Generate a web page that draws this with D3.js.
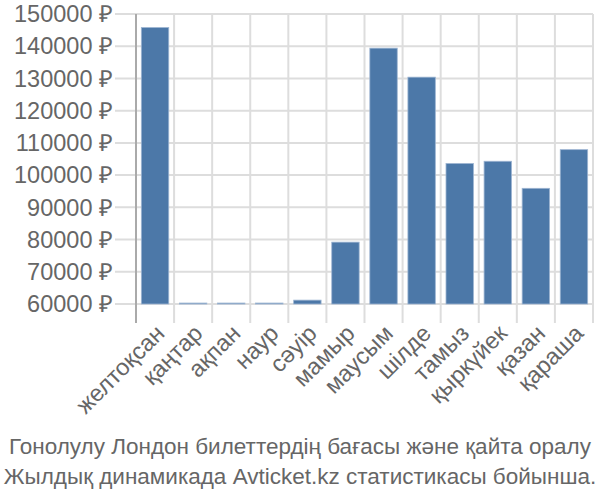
<!DOCTYPE html>
<html><head><meta charset="utf-8">
<script src="https://cdn.jsdelivr.net/npm/d3@7"></script>
<style>body{margin:0;background:#fff;}svg{display:block;}</style>
</head><body>
<svg id="c" width="600" height="500"></svg>
<script>
const months = ["желтоқсан","қаңтар","ақпан","наур","сәуір","мамыр","маусым","шілде","тамыз","қыркүйек","қазан","қараша"];
const prices = [145800, 60300, 60300, 60300, 61200, 79200, 139400, 130400, 103600, 104300, 95900, 107900];
const yTicks = [60000,70000,80000,90000,100000,110000,120000,130000,140000,150000];
const titleLines = ["Гонолулу Лондон билеттердің бағасы және қайта оралу","Жылдық динамикада Avticket.kz статистикасы бойынша."];

const svg = d3.select("#c");
const L = 136, R = 593, T = 14, B = 304;
const x = d3.scaleBand().domain(months).range([L, R]);
const y = d3.scaleLinear().domain([60000,150000]).range([B, T]);

const g = svg.append("g");
g.selectAll(".hg").data(yTicks).enter().append("line")
 .attr("x1", 115).attr("x2", R).attr("y1", d=>y(d)).attr("y2", d=>y(d))
 .attr("stroke","#dddddd").attr("stroke-width",2);
const vx = months.map(m=>x(m)).slice(1).concat([R]);
g.selectAll(".vg").data(vx).enter().append("line")
 .attr("x1", d=>d).attr("x2", d=>d).attr("y1", T).attr("y2", 323)
 .attr("stroke","#dddddd").attr("stroke-width",2);
g.append("line").attr("x1",L).attr("x2",L).attr("y1",T).attr("y2",323)
 .attr("stroke","#aaaaaa").attr("stroke-width",2);

const bw = x.bandwidth()*0.72;
g.selectAll(".bar").data(prices).enter().append("rect")
 .attr("x",(d,i)=>x(months[i])+x.bandwidth()/2-bw/2)
 .attr("width",bw)
 .attr("y",d=>y(d))
 .attr("height",d=>Math.max(0.5,B-y(d)))
 .attr("fill","#4c78a8").attr("stroke","#9db5d2").attr("stroke-width",0.8);

g.selectAll(".yl").data(yTicks).enter().append("text")
 .attr("x",113).attr("y",d=>y(d)).attr("dy","0.35em")
 .attr("text-anchor","end")
 .attr("font-family","Liberation Sans, Arial, sans-serif").attr("font-size",23.5)
 .attr("fill","#666").text(d=>d+" ₽");

g.selectAll(".xl").data(months).enter().append("text")
 .attr("transform",d=>`translate(${x(d)+x.bandwidth()/2+5},${329}) rotate(-45)`)
 .attr("text-anchor","end")
 .attr("dy","0.35em")
 .attr("font-family","Liberation Sans, Arial, sans-serif").attr("font-size",23.5)
 .attr("fill","#666").text(d=>d);

svg.selectAll(".tt").data(titleLines).enter().append("text")
 .attr("x",300).attr("y",(d,i)=>454+i*30)
 .attr("text-anchor","middle")
 .attr("font-family","Liberation Sans Narrow, Arial Narrow, sans-serif").attr("font-size",22.5)
 .attr("fill","#666").text(d=>d);
</script>
</body></html>
